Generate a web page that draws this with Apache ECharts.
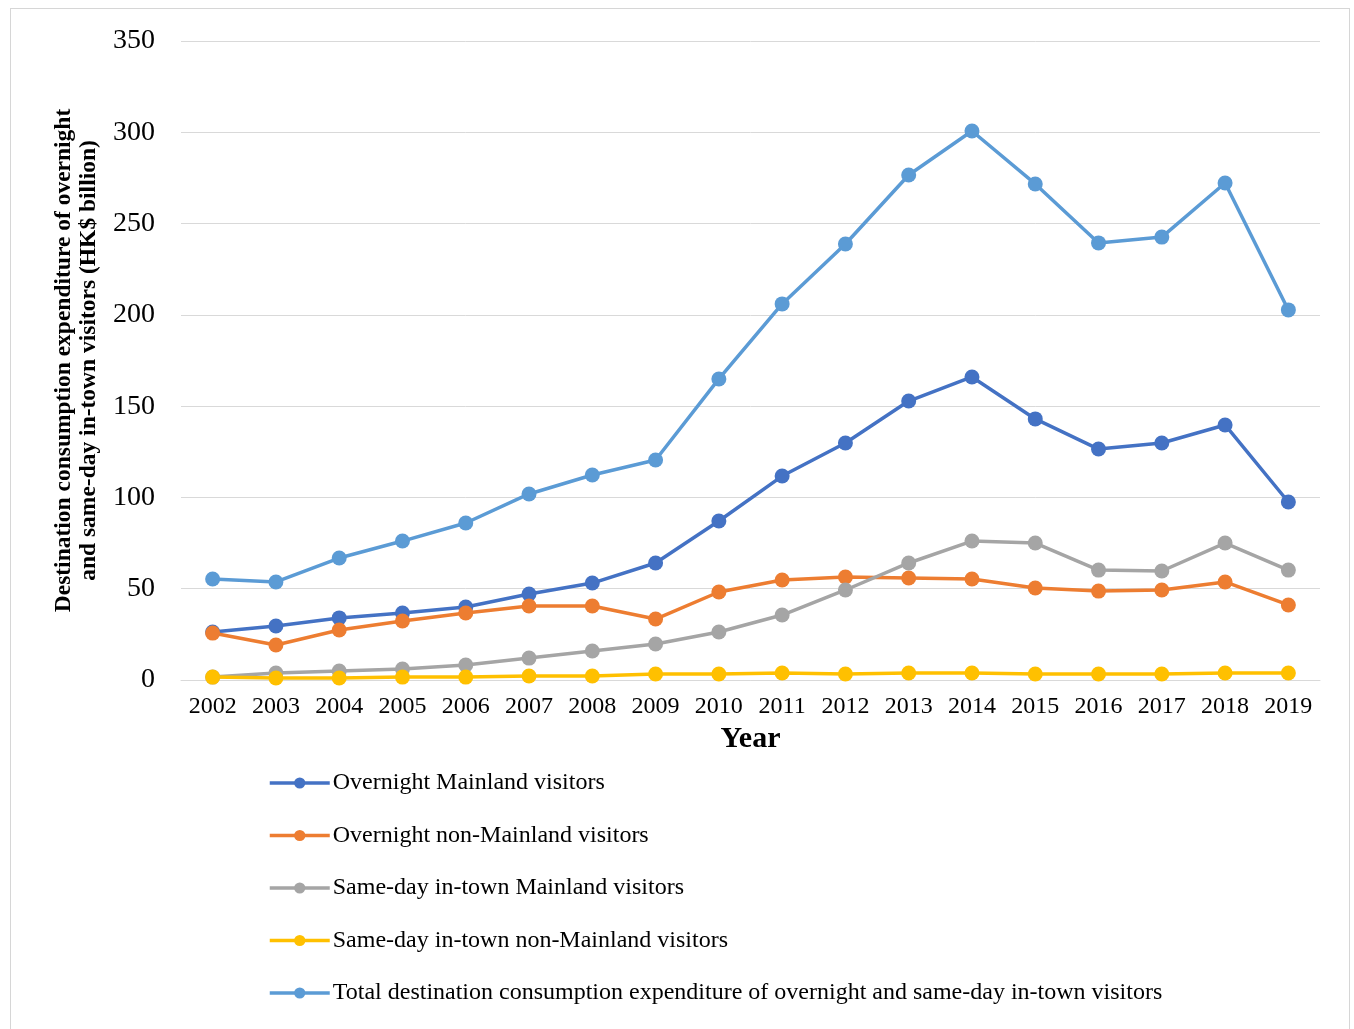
<!DOCTYPE html>
<html>
<head>
<meta charset="utf-8">
<script src="https://cdn.jsdelivr.net/npm/echarts@6/dist/echarts.min.js"></script>
<style>
  html, body { margin: 0; padding: 0; background: #fff; }
  #wrap { position: relative; width: 1354px; height: 1029px; overflow: hidden; }
  #frame { position: absolute; left: 10px; top: 8px; width: 1338px; height: 1040px; border: 1px solid #d6d6d6; }
  #chart { position: absolute; left: 0; top: 0; width: 1354px; height: 1029px; }
</style>
</head>
<body>
<div id="wrap">
  <div id="frame"></div>
  <div id="chart"></div>
</div>
<script>
const years = ['2002', '2003', '2004', '2005', '2006', '2007', '2008', '2009', '2010',
  '2011', '2012', '2013', '2014', '2015', '2016', '2017', '2018', '2019']

const overnightMainland = [26.3, 29.6, 34, 36.7, 40, 47.1, 53.1, 64.1, 87.1, 111.7, 129.8, 152.8, 166, 143, 126.5, 129.8, 139.7, 97.5]
const overnightNonMainland = [25.7, 19.2, 27.4, 32.3, 36.7, 40.5, 40.5, 33.4, 48.2, 54.8, 56.4, 55.9, 55.3, 50.4, 48.7, 49.3, 53.7, 41.1]
const sameDayMainland = [1.6, 3.8, 4.9, 6, 8.2, 12, 15.9, 19.7, 26.3, 35.6, 49.3, 64.1, 76.1, 75, 60.2, 59.7, 75, 60.2]
const sameDayNonMainland = [1.6, 1.1, 1.1, 1.6, 1.6, 2.2, 2.2, 3.3, 3.3, 3.8, 3.3, 3.8, 3.8, 3.3, 3.3, 3.3, 3.8, 3.8]
const totalExpenditure = [55.3, 53.7, 66.8, 76.1, 86, 101.9, 112.3, 120.5, 164.9, 206, 238.8, 276.6, 300.7, 271.7, 239.4, 242.6, 272.2, 202.7]

const seriesNames = [
  'Overnight Mainland visitors',
  'Overnight non-Mainland visitors',
  'Same-day in-town Mainland visitors',
  'Same-day in-town non-Mainland visitors',
  'Total destination consumption expenditure of overnight and same-day in-town visitors'
]
const seriesData = [overnightMainland, overnightNonMainland, sameDayMainland, sameDayNonMainland, totalExpenditure]
const colors = ['#4472C4', '#ED7D31', '#A5A5A5', '#FFC000', '#5B9BD5']

const font = '"Liberation Serif", "Times New Roman", serif'

const chart = echarts.init(document.getElementById('chart'))

chart.setOption({
  backgroundColor: 'transparent',
  animation: false,
  color: colors,
  textStyle: { fontFamily: font },
  grid: { left: 181, right: 34, top: 41, bottom: 349 },
  legend: {
    orient: 'vertical',
    left: 268,
    top: 771,
    padding: 0,
    itemWidth: 60,
    itemHeight: 14,
    itemGap: 28.5,
    lineStyle: { width: 3.5 },
    textStyle: { fontFamily: font, fontSize: 24, color: '#000', lineHeight: 22, padding: [0, 0, 0, -2] },
    data: seriesNames
  },
  xAxis: {
    type: 'category',
    data: years,
    name: 'Year',
    nameLocation: 'middle',
    nameGap: 40,
    nameTextStyle: { fontFamily: font, fontSize: 30, fontWeight: 'bold', color: '#000', verticalAlign: 'top' },
    axisLine: { lineStyle: { color: '#d9d9d9', width: 1 } },
    axisTick: { show: false },
    axisLabel: { fontFamily: font, fontSize: 24, color: '#000', margin: 15 }
  },
  yAxis: {
    type: 'value',
    min: 0,
    max: 350,
    interval: 50,
    name: 'Destination consumption expenditure of overnight\nand same-day in-town visitors (HK$ billion)',
    nameLocation: 'middle',
    nameGap: 80,
    nameTextStyle: { fontFamily: font, fontSize: 23.5, fontWeight: 'bold', color: '#000', lineHeight: 25 },
    axisLine: { show: false },
    axisTick: { show: false },
    axisLabel: { fontFamily: font, fontSize: 28, color: '#000', margin: 26 },
    splitLine: { lineStyle: { color: '#d9d9d9', width: 1 } }
  },
  series: seriesNames.map((name, i) => ({
    name,
    type: 'line',
    data: seriesData[i],
    symbol: 'circle',
    symbolSize: 15,
    lineStyle: { width: 3.5 },
    itemStyle: { color: colors[i] }
  }))
})
</script>
</body>
</html>
